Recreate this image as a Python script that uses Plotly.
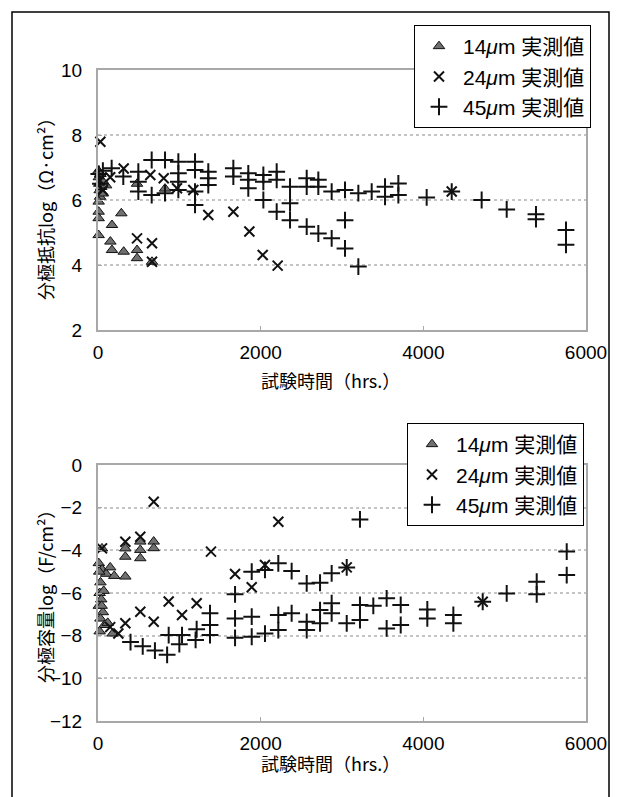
import plotly.graph_objects as go

# ---------------- data: polarization resistance (top) ----------------
r14_t = [5, 10, 15, 20, 25, 30, 40, 50, 8, 8, 8, 8, 60, 100, 287, 172, 152, 172, 316, 480, 480, 664, 480, 824]
r14_v = [6.9, 6.7, 6.5, 6.3, 6.1, 6.8, 6.4, 6.6, 5.95, 5.64, 5.44, 4.92, 6.2, 6.45, 5.59, 5.23, 4.72, 4.46, 4.41, 4.46, 4.21, 4.1, 6.5, 6.35]

r24_t = [29, 20, 60, 150, 316, 480, 643, 664, 664, 808, 971, 1172, 1356, 1664, 1861, 2025, 2209, 4349]
r24_v = [7.79, 6.6, 6.3, 6.7, 6.97, 4.82, 6.77, 4.67, 4.10, 6.67, 6.36, 6.31, 5.54, 5.64, 5.03, 4.31, 3.98, 6.26]

r45_t = [10, 30, 60, 168, 311, 496, 496, 496, 660, 660, 824, 824, 988, 988, 988, 988,
         1193, 1193, 1193, 1193, 1356, 1356, 1356, 1664, 1664, 1848, 1848, 1848,
         2033, 2033, 2033, 2197, 2197, 2197, 2361, 2361, 2361, 2566, 2566, 2566,
         2709, 2709, 2709, 2873, 2873, 3037, 3037, 3037, 3201, 3201, 3365, 3529, 3529,
         3693, 3693, 4041, 4349, 4717, 5025, 5385, 5385, 5754, 5754]
r45_v = [6.8, 6.5, 6.9, 6.98, 6.72, 6.87, 6.56, 6.26, 7.23, 6.15, 7.23, 6.21, 7.18, 6.82, 6.56, 6.31,
         7.18, 6.92, 6.26, 5.85, 6.87, 6.67, 6.46, 6.98, 6.72, 6.82, 6.62, 6.36,
         6.77, 6.56, 6.0, 6.87, 6.62, 5.64, 6.41, 5.9, 5.38, 6.67, 6.41, 5.18,
         6.62, 6.41, 4.97, 6.26, 4.82, 6.31, 5.38, 4.51, 6.21, 3.95, 6.26, 6.41, 6.10,
         6.51, 6.15, 6.08, 6.26, 6.0, 5.71, 5.56, 5.41, 5.08, 4.62]

# ---------------- data: polarization capacitance (bottom) ----------------
c14_t = [49, 336, 336, 520, 520, 520, 685, 685, 10, 50, 100, 150, 200, 30, 336, 20, 40, 10, 60, 30, 80, 20, 120, 180, 15, 70, 45]
c14_v = [-3.91, -3.91, -4.3, -3.59, -3.98, -4.37, -3.59, -3.9, -4.6, -4.9, -5.1, -4.8, -5.2, -5.5, -5.23, -6.0, -6.3, -6.6, -6.9, -7.2, -7.5, -7.8, -7.4, -7.9, -5.0, -5.9, -6.6]

c24_t = [685, 49, 336, 520, 1389, 2217, 1685, 2053, 1890, 1213, 3058, 520, 685, 869, 1033, 336, 150, 250, 4730]
c24_v = [-1.72, -3.91, -3.6, -3.36, -4.06, -2.66, -5.11, -4.69, -5.73, -6.48, -4.8, -6.88, -7.35, -6.4, -7.03, -7.42, -7.6, -7.9, -6.41]

c45_t = [869, 1033, 1377, 1377, 1377, 1213, 1685, 1685, 1685, 1890, 1890, 1890, 2053, 2053,
         2217, 2217, 2217, 2381, 2381, 2566, 2566, 2566, 2730, 2730, 2730, 2873, 2873, 2873,
         3058, 3058, 3221, 3221, 3221, 3385, 3549, 3549, 3722, 3722, 4049, 4049, 4369, 4369,
         4730, 5025, 5394, 5394, 5763, 5763, 400, 550, 700, 850, 1000, 1200]
c45_v = [-7.97, -7.97, -6.95, -7.5, -7.97, -7.7, -6.06, -7.19, -8.1, -5.0, -7.11, -8.05, -4.92, -7.9,
         -4.61, -7.03, -7.74, -4.97, -6.95, -5.55, -7.35, -7.74, -5.52, -6.8, -7.42, -5.08, -6.48, -6.95,
         -4.8, -7.42, -2.55, -6.56, -7.27, -6.6, -6.25, -7.66, -6.56, -7.5, -6.77, -7.19, -7.03, -7.42,
         -6.41, -6.02, -5.47, -6.06, -4.06, -5.16, -8.3, -8.5, -8.7, -8.9, -8.4, -8.2]

names = ["14<i>μ</i>m 実測値", "24<i>μ</i>m 実測値", "45<i>μ</i>m 実測値"]
x_ticks = [0, 2000, 4000, 6000]

FONT = "Liberation Sans, Arial, Noto Sans CJK JP, sans-serif"
W, H = 619, 797

styles = [
    dict(symbol="triangle-up", size=10, color="#707070", line=dict(color="#111", width=1)),
    dict(symbol="x-thin-open", size=10, color="#111", line=dict(color="#111", width=2)),
    dict(symbol="cross-thin-open", size=12, color="#111", line=dict(color="#111", width=2)),
]

fig = go.Figure()
top = [(r14_t, r14_v), (r24_t, r24_v), (r45_t, r45_v)]
bot = [(c14_t, c14_v), (c24_t, c24_v), (c45_t, c45_v)]
for i, (t, v) in enumerate(top):
    fig.add_trace(go.Scatter(x=t, y=v, mode="markers", name=names[i], marker=styles[i],
                             xaxis="x", yaxis="y", legend="legend", cliponaxis=False))
for i, (t, v) in enumerate(bot):
    fig.add_trace(go.Scatter(x=t, y=v, mode="markers", name=names[i], marker=styles[i],
                             xaxis="x2", yaxis="y2", legend="legend2", cliponaxis=False))

xd = [98 / W, 586 / W]
ax_common = dict(showline=True, linecolor="#a8a8a8", linewidth=2, mirror=True, zeroline=False,
                 ticks="inside", ticklen=4, tickcolor="#a8a8a8", automargin=False,
                 tickfont=dict(family=FONT, size=19, color="black"))
grid = dict(showgrid=True, gridcolor="#c4c4c4", griddash="dot", gridwidth=2)

leg_common = dict(xanchor="left", yanchor="top", bordercolor="black", borderwidth=1,
                  bgcolor="white", itemwidth=38, tracegroupgap=0,
                  font=dict(family=FONT, size=21, color="black"))

fig.update_layout(
    width=W, height=H, margin=dict(l=0, r=0, t=0, b=0, pad=0, autoexpand=False), autosize=False,
    paper_bgcolor="white", plot_bgcolor="white",
    font=dict(family=FONT, color="black"),
    xaxis=dict(domain=xd, range=[0, 6000], tickvals=x_ticks, showgrid=False, anchor="y",
               ticklabelstandoff=4, **ax_common),
    yaxis=dict(domain=[1 - 330 / H, 1 - 70 / H], range=[2, 10], dtick=2, anchor="x",
               ticklabelstandoff=10, **grid, **ax_common),
    xaxis2=dict(domain=xd, range=[0, 6000], tickvals=x_ticks, showgrid=False, anchor="y2",
                ticklabelstandoff=4, **ax_common),
    yaxis2=dict(domain=[1 - 721 / H, 1 - 465 / H], range=[-12, 0], dtick=2, anchor="x2",
                ticklabelstandoff=10, **grid, **ax_common),
    legend=dict(x=414 / W, y=1 - 25 / H, **leg_common),
    legend2=dict(x=407 / W, y=1 - 423 / H, **leg_common),
    showlegend=True,
)

ann_font = dict(family="Noto Sans CJK JP, Liberation Sans, sans-serif", size=18, color="black")
common_ann = dict(xref="paper", yref="paper", showarrow=False, font=ann_font,
                  xanchor="center", yanchor="middle")
fig.add_annotation(text="試験時間（hrs.）", x=330 / W, y=1 - 380 / H, **common_ann)
fig.add_annotation(text="試験時間（hrs.）", x=330 / W, y=1 - 763 / H, **common_ann)
fig.add_annotation(text="分極抵抗log（Ω·cm²）", x=45 / W, y=1 - 205 / H, textangle=-90, **common_ann)
fig.add_annotation(text="分極容量log（F/cm²）", x=45 / W, y=1 - 592 / H, textangle=-90, **common_ann)

# outer frame
fig.add_shape(type="rect", xref="paper", yref="paper", x0=12 / W, x1=609 / W, y0=-0.05, y1=1 - 12 / H,
              line=dict(color="black", width=1.5), fillcolor="rgba(0,0,0,0)", layer="below")

fig.write_html("out.html", config={"displayModeBar": False},
               post_script="document.body.style.margin='0';document.body.style.overflow='hidden';")
